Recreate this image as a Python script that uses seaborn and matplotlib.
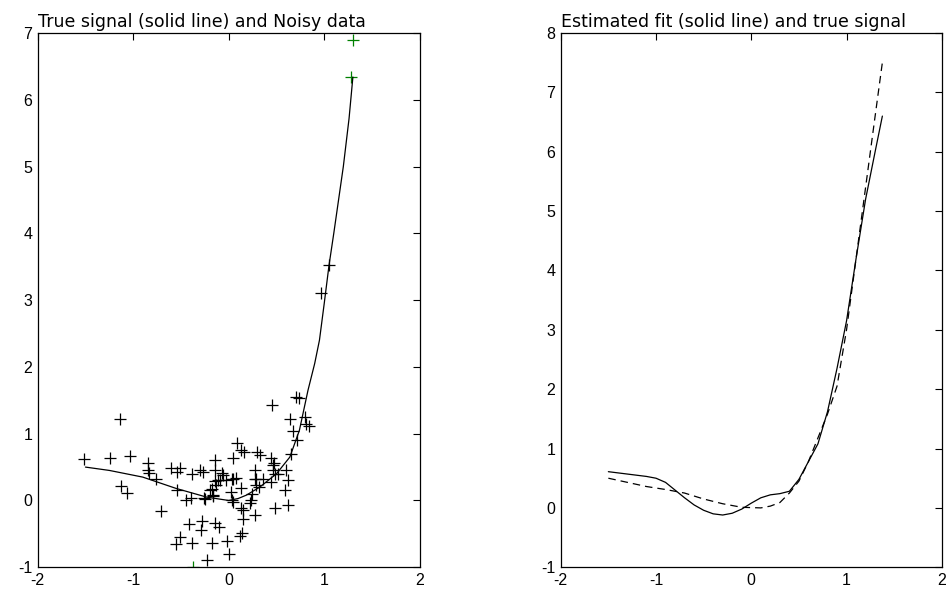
import numpy as np
import pandas as pd
import matplotlib
matplotlib.use("Agg")
import matplotlib.pyplot as plt
import seaborn as sns

# ---------------- data ----------------
noisy_x = [-1.14, -1.515, -1.24, -1.037, -0.845, -0.845, -0.83, -0.76, -1.13, -1.07,
           -0.705, -0.60, -0.513, -0.54, -0.38, -0.30, -0.27, -0.147, -0.147, -0.07,
           -0.54, -0.45, -0.40, -0.26, -0.16, -0.17, -0.13, -0.094, -0.03, 0.02,
           0.03, 0.045, 0.045, 0.08, 0.04, 0.087, 0.133, 0.16, 0.30, 0.325,
           0.44, 0.133, 0.27, 0.29, 0.36, 0.317, 0.24, 0.227, 0.133, 0.15,
           0.27, 0.47, 0.465, 0.48, 0.447, 0.52, 0.60, 0.62, 0.586, 0.48,
           0.62, 0.457, 0.70, 0.736, 0.64, 0.80, 0.81, 0.67, 0.71, 0.656,
           -0.415, -0.275, -0.286, -0.147, -0.10, -0.513, -0.555, -0.38, -0.18, -0.017,
           0.115, 0.143, 0.003, -0.227, 1.05, 0.963, 0.84,
           -0.06, 0.03, 0.46, 0.28, 0.29, 0.23, 0.15, -0.14, -0.11, -0.20, -0.16, -0.25]
noisy_y = [1.22, 0.625, 0.634, 0.664, 0.565, 0.45, 0.41, 0.315, 0.21, 0.11,
           -0.163, 0.49, 0.49, 0.425, 0.40, 0.46, 0.425, 0.61, 0.46, 0.41,
           0.15, 0.0, 0.04, 0.04, 0.076, 0.176, 0.226, 0.30, 0.30, 0.125,
           0.0, -0.024, 0.315, 0.34, 0.634, 0.858, 0.75, 0.72, 0.73, 0.674,
           0.634, 0.19, 0.46, 0.315, 0.315, 0.20, 0.10, -0.04, -0.12, -0.27,
           -0.22, 0.565, 0.46, 0.40, 0.275, 0.40, 0.45, 0.30, 0.15, -0.114,
           -0.073, 1.436, 1.546, 1.536, 1.22, 1.247, 1.15, 1.04, 0.90, 0.70,
           -0.347, -0.30, -0.447, -0.34, -0.40, -0.547, -0.646, -0.637, -0.637, -0.60,
           -0.537, -0.49, -0.795, -0.895, 3.52, 3.10, 1.12,
           0.38, 0.32, 0.53, 0.32, 0.23, 0.0, -0.15, 0.29, 0.30, 0.16, 0.06, 0.02]

outlier_x = [1.30, 1.28, -0.37]
outlier_y = [6.89, 6.34, -1.0]

true_left_x = [-1.5, -1.25, -0.9, -0.55, -0.23, 0.0, 0.1, 0.185, 0.325, 0.5,
               0.64, 0.74, 0.83, 0.90, 0.95, 1.00, 1.05, 1.10, 1.20, 1.26, 1.30]
true_left_y = [0.50, 0.45, 0.35, 0.18, 0.05, 0.0, 0.03, 0.08, 0.20, 0.40,
               0.65, 1.05, 1.65, 2.05, 2.40, 2.95, 3.52, 4.00, 5.00, 5.72, 6.34]

fit_x = [-1.5, -1.3, -1.1, -1.0, -0.9, -0.8, -0.7, -0.6, -0.5, -0.4, -0.3, -0.2,
         -0.1, 0.0, 0.1, 0.2, 0.3, 0.4, 0.5, 0.6, 0.7, 0.8, 0.9, 1.0, 1.1, 1.2,
         1.3, 1.376]
fit_y = [0.61, 0.57, 0.53, 0.50, 0.43, 0.30, 0.17, 0.05, -0.04, -0.10, -0.12, -0.09,
         -0.02, 0.08, 0.17, 0.22, 0.24, 0.28, 0.48, 0.78, 1.08, 1.62, 2.35, 3.15, 4.2, 5.2,
         6.0, 6.6]

true_x = [-1.5, -1.3, -1.1, -0.9, -0.7, -0.5, -0.3, -0.1, 0.1, 0.2, 0.3, 0.4,
          0.5, 0.6, 0.7, 0.8, 0.9, 1.0, 1.1, 1.2, 1.3, 1.38]
true_y = [0.50, 0.43, 0.36, 0.31, 0.25, 0.15, 0.07, 0.01, 0.0, 0.03, 0.09, 0.25,
          0.45, 0.78, 1.18, 1.58, 2.05, 3.0, 4.2, 5.4, 6.6, 7.55]

x_ticks = [-2, -1, 0, 1, 2]
left_yticks = [-1, 0, 1, 2, 3, 4, 5, 6, 7]
right_yticks = [-1, 0, 1, 2, 3, 4, 5, 6, 7, 8]

left_title = "True signal (solid line) and Noisy data"
right_title = "Estimated fit (solid line) and true signal"

# ---------------- style ----------------
sns.set_style("white")
plt.rcParams["font.family"] = ["Liberation Sans", "DejaVu Sans"]
plt.rcParams.update({
    "xtick.direction": "in", "ytick.direction": "in",
    "xtick.top": True, "ytick.right": True,
    "xtick.major.size": 5, "ytick.major.size": 5,
    "xtick.major.width": 0.8, "ytick.major.width": 0.8,
    "xtick.color": "black", "ytick.color": "black",
    "xtick.labelcolor": "black", "ytick.labelcolor": "black",
    "text.color": "black", "axes.labelcolor": "black",
    "xtick.labelsize": 11.5, "ytick.labelsize": 11.5,
    "axes.edgecolor": "black", "axes.linewidth": 0.9,
})

fig = plt.figure(figsize=(9.52, 5.93), dpi=100)
ax1 = fig.add_axes([0.0396, 0.0434, 0.4013, 0.901])
ax2 = fig.add_axes([0.589, 0.0434, 0.4003, 0.901])

df_noisy = pd.DataFrame({"x": noisy_x, "y": noisy_y})
df_out = pd.DataFrame({"x": outlier_x, "y": outlier_y})
df_tl = pd.DataFrame({"x": true_left_x, "y": true_left_y})
df_fit = pd.DataFrame({"x": fit_x, "y": fit_y})
df_true = pd.DataFrame({"x": true_x, "y": true_y})

sns.lineplot(data=df_tl, x="x", y="y", ax=ax1, color="black", linewidth=0.9,
             sort=False, estimator=None)
sns.scatterplot(data=df_noisy, x="x", y="y", ax=ax1, marker="+", color="black",
                s=70, linewidth=0.9)
sns.scatterplot(data=df_out, x="x", y="y", ax=ax1, marker="+", color="#008000",
                s=70, linewidth=0.9)

sns.lineplot(data=df_fit, x="x", y="y", ax=ax2, color="black", linewidth=0.9,
             sort=False, estimator=None)
sns.lineplot(data=df_true, x="x", y="y", ax=ax2, color="black", linewidth=0.9,
             sort=False, estimator=None, dashes=False, linestyle=(0, (6, 4)))

for ax, yt, ylim, title in [(ax1, left_yticks, (-1, 7), left_title),
                            (ax2, right_yticks, (-1, 8), right_title)]:
    ax.set_xlim(-2, 2)
    ax.set_ylim(*ylim)
    ax.set_xticks(x_ticks)
    ax.set_xticklabels([str(t) for t in x_ticks], fontsize=11.5, color="black")
    ax.set_yticks(yt)
    ax.set_yticklabels([str(t) for t in yt], fontsize=11.5, color="black")
    ax.set_xlabel("")
    ax.set_ylabel("")
    ax.set_title(title, loc="left", fontsize=12.5, pad=4, color="black",
                 family=["DejaVu Sans"])
    for s in ax.spines.values():
        s.set_visible(True)
        s.set_color("black")
    ax.tick_params(axis="both", pad=4, colors="black")

fig.savefig("out.png", dpi=100)
